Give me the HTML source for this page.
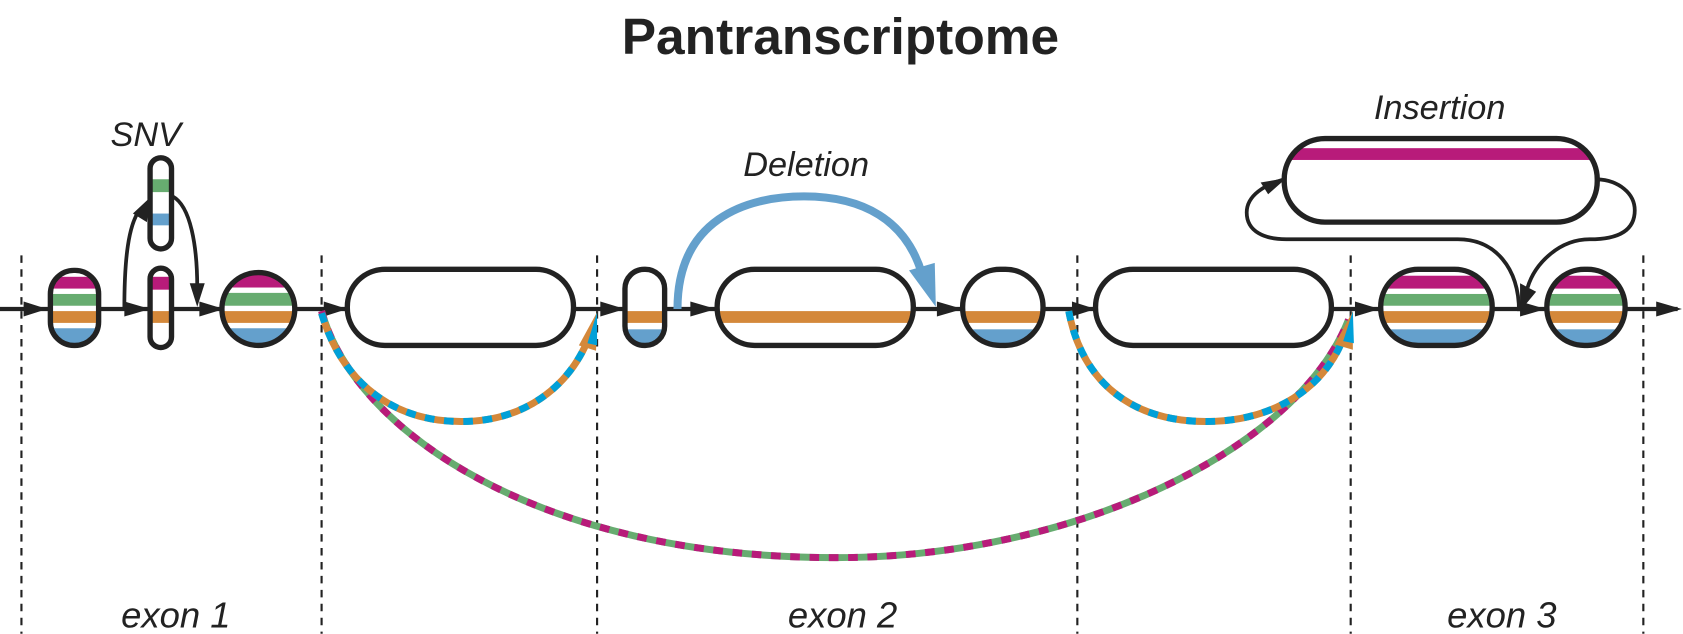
<!DOCTYPE html>
<html><head><meta charset="utf-8"><style>
html,body{margin:0;padding:0;background:#fff;width:1683px;height:634px;overflow:hidden}
svg{display:block}
</style></head><body>
<svg width="1683" height="634" viewBox="0 0 1570 591" xmlns="http://www.w3.org/2000/svg">
<g font-family="Liberation Sans, DejaVu Sans, sans-serif">
<text x="784" y="50" text-anchor="middle" font-size="48" font-weight="bold" fill="#222">Pantranscriptome</text>
<g font-style="italic" font-size="32" fill="#222" text-anchor="middle">
<text x="136" y="136">SNV</text>
<text x="752" y="164">Deletion</text>
<text x="1343" y="111">Insertion</text>
<text x="164" y="585" font-size="34">exon 1</text>
<text x="786" y="585" font-size="34">exon 2</text>
<text x="1401" y="585" font-size="34">exon 3</text>
</g>
</g>
<g stroke="#222" stroke-width="2" stroke-dasharray="7,6">
<line x1="20" y1="238" x2="20" y2="591"/>
<line x1="300" y1="238" x2="300" y2="591"/>
<line x1="557" y1="238" x2="557" y2="591"/>
<line x1="1005" y1="238" x2="1005" y2="591"/>
<line x1="1260" y1="238" x2="1260" y2="591"/>
<line x1="1533" y1="238" x2="1533" y2="591"/>
</g>
<line x1="0" y1="288" x2="1565" y2="288" stroke="#222" stroke-width="4"/>
<g fill="#222">
<path d="M22,281 L44,288 L22,295Z"/>
<path d="M116,281 L140,288 L116,295Z"/>
<path d="M186,281 L209,288 L186,295Z"/>
<path d="M302,281 L324,288 L302,295Z"/>
<path d="M560,281 L583,288 L560,295Z"/>
<path d="M644,281 L668,288 L644,295Z"/>
<path d="M874,281 L898,288 L874,295Z"/>
<path d="M1000,281 L1022,288 L1000,295Z"/>
<path d="M1264,281 L1287,288 L1264,295Z"/>
<path d="M1418,281 L1442,288 L1418,295Z"/>
<path d="M1545,281 L1569,288 L1545,295Z"/>
</g>
<defs>
<clipPath id="c1"><rect x="47" y="252" width="45" height="70" rx="22"/></clipPath>
<clipPath id="c2"><rect x="140" y="250" width="20" height="74" rx="10"/></clipPath>
<clipPath id="c3"><rect x="140" y="147" width="20" height="85" rx="10"/></clipPath>
<clipPath id="c4"><circle cx="241" cy="288" r="34"/></clipPath>
<clipPath id="c6"><rect x="583" y="251" width="37" height="71" rx="18"/></clipPath>
<clipPath id="c7"><rect x="669" y="251" width="183" height="71" rx="35"/></clipPath>
<clipPath id="c8"><rect x="898" y="251" width="75" height="71" rx="35"/></clipPath>
<clipPath id="c10"><rect x="1288" y="251" width="104" height="71" rx="35"/></clipPath>
<clipPath id="c11"><rect x="1443" y="251" width="73" height="71" rx="35"/></clipPath>
<clipPath id="ci"><rect x="1198" y="129" width="292" height="78" rx="38"/></clipPath>
</defs>
<g fill="#fff" stroke="none">
<rect x="47" y="252" width="45" height="70" rx="22"/>
<rect x="140" y="250" width="20" height="74" rx="10"/>
<rect x="140" y="147" width="20" height="85" rx="10"/>
<circle cx="241" cy="288" r="34"/>
<rect x="324" y="251" width="211" height="71" rx="35"/>
<rect x="583" y="251" width="37" height="71" rx="18"/>
<rect x="669" y="251" width="183" height="71" rx="35"/>
<rect x="898" y="251" width="75" height="71" rx="35"/>
<rect x="1022" y="251" width="220" height="71" rx="35"/>
<rect x="1288" y="251" width="104" height="71" rx="35"/>
<rect x="1443" y="251" width="73" height="71" rx="35"/>
</g>
<g>
<g clip-path="url(#c1)"><rect x="40" y="258" width="60" height="11" fill="#b81b7a"/><rect x="40" y="274" width="60" height="11" fill="#67ac70"/><rect x="40" y="290" width="60" height="11" fill="#d4883a"/><rect x="40" y="306" width="60" height="14" fill="#64a0cc"/></g>
<g clip-path="url(#c2)"><rect x="135" y="258" width="30" height="12" fill="#b81b7a"/><rect x="135" y="290" width="30" height="11" fill="#d4883a"/></g>
<g clip-path="url(#c3)"><rect x="135" y="167" width="30" height="12" fill="#67ac70"/><rect x="135" y="199" width="30" height="11" fill="#64a0cc"/></g>
<g clip-path="url(#c4)"><rect x="200" y="256" width="80" height="12" fill="#b81b7a"/><rect x="200" y="273" width="80" height="12" fill="#67ac70"/><rect x="200" y="290" width="80" height="11" fill="#d4883a"/><rect x="200" y="306" width="80" height="14" fill="#64a0cc"/></g>
<g clip-path="url(#c6)"><rect x="580" y="290" width="45" height="11" fill="#d4883a"/><rect x="580" y="307" width="45" height="14" fill="#64a0cc"/></g>
<g clip-path="url(#c7)"><rect x="665" y="290" width="190" height="11" fill="#d4883a"/></g>
<g clip-path="url(#c8)"><rect x="895" y="290" width="80" height="11" fill="#d4883a"/><rect x="895" y="307" width="80" height="14" fill="#64a0cc"/></g>
<g clip-path="url(#c10)"><rect x="1285" y="257" width="110" height="12" fill="#b81b7a"/><rect x="1285" y="274" width="110" height="11" fill="#67ac70"/><rect x="1285" y="290" width="110" height="11" fill="#d4883a"/><rect x="1285" y="307" width="110" height="14" fill="#64a0cc"/></g>
<g clip-path="url(#c11)"><rect x="1440" y="257" width="80" height="12" fill="#b81b7a"/><rect x="1440" y="274" width="80" height="11" fill="#67ac70"/><rect x="1440" y="290" width="80" height="11" fill="#d4883a"/><rect x="1440" y="307" width="80" height="14" fill="#64a0cc"/></g>
<g clip-path="url(#ci)"><rect x="1195" y="138" width="300" height="11" fill="#b81b7a"/></g>
</g>
<g fill="none" stroke="#222" stroke-width="5">
<rect x="47" y="252" width="45" height="70" rx="22"/>
<rect x="140" y="250" width="20" height="74" rx="10"/>
<rect x="140" y="147" width="20" height="85" rx="10"/>
<circle cx="241" cy="288" r="34"/>
<rect x="324" y="251" width="211" height="71" rx="35"/>
<rect x="583" y="251" width="37" height="71" rx="18"/>
<rect x="669" y="251" width="183" height="71" rx="35"/>
<rect x="898" y="251" width="75" height="71" rx="35"/>
<rect x="1022" y="251" width="220" height="71" rx="35"/>
<rect x="1288" y="251" width="104" height="71" rx="35"/>
<rect x="1443" y="251" width="73" height="71" rx="35"/>
<rect x="1198" y="129" width="292" height="78" rx="38"/>
</g>
<g fill="none" stroke="#222" stroke-width="3.5">
<path d="M116,288 C116,240 120,210 130,196"/>
<path d="M161,183 C178,192 184,230 184,268"/>
<path d="M1198,167 C1180,172 1163,182 1163,198 C1163,216 1180,223 1200,223 L1360,223 C1395,223 1417,250 1417,290"/>
<path d="M1490,167 C1510,168 1525,180 1525,196 C1525,216 1508,223 1483,223 C1455,223 1432,245 1425,268"/>
</g>
<g fill="#222">
<path d="M140,184 L137,207 L124,199Z"/>
<path d="M184,286 L177,264 L191,264Z"/>
<path d="M1200,166 L1183,181 L1176,170Z"/>
<path d="M1418,290 L1418,264 L1433,272Z"/>
</g>
<path d="M632,288 C632,205 695,183 750,183 C805,183 845,205 860,255" fill="none" stroke="#64a0cc" stroke-width="7.5"/>
<path d="M873,286 L848,252 L872,245Z" fill="#64a0cc"/>
<g fill="none" stroke-width="6.5">
<path d="M300,290 C330,400 500,520 780,520 C1000,520 1210,420 1258,298" stroke="#67ac70"/>
<path d="M300,290 C330,400 500,520 780,520 C1000,520 1210,420 1258,298" stroke="#b81b7a" stroke-dasharray="9,9"/>
<path d="M300,292 C320,360 370,393 430,393 C490,393 530,360 548,318" stroke="#d4883a"/>
<path d="M300,292 C320,360 370,393 430,393 C490,393 530,360 548,318" stroke="#00a0d8" stroke-dasharray="9,9"/>
<path d="M997,290 C1010,360 1060,393 1125,393 C1190,393 1235,360 1252,318" stroke="#d4883a"/>
<path d="M997,290 C1010,360 1060,393 1125,393 C1190,393 1235,360 1252,318" stroke="#00a0d8" stroke-dasharray="9,9"/>
</g>
<g>
<path d="M557,291 L540,322 L556,327Z" fill="#d4883a"/>
<path d="M557,291 L548,320 L557,322Z" fill="#00a0d8"/>
<path d="M1262,290 L1245,321 L1262,326Z" fill="#d4883a"/>
<path d="M1262,290 L1253,318 L1263,320Z" fill="#00a0d8"/>
</g>
</svg>
</body></html>
